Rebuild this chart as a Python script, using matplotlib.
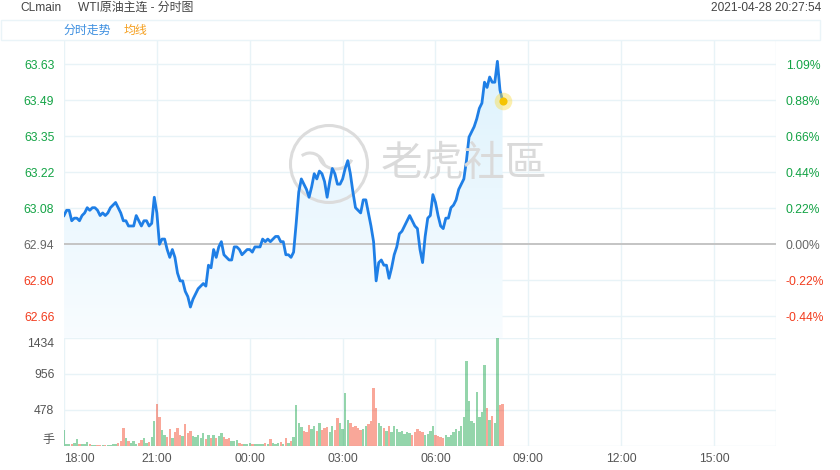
import numpy as np
import matplotlib
matplotlib.use("Agg")
import matplotlib.pyplot as plt
from matplotlib.patches import Polygon, Circle, Arc, Rectangle
from matplotlib.colors import LinearSegmentedColormap

plt.rcParams['font.family'] = ['Liberation Sans', 'Noto Sans CJK SC', 'DejaVu Sans']

# previous close and the percent step between grid lines
base = 62.94
step_pct = 0.2188

# 5-minute samples from 18:00
price = [63.05, 63.07, 63.07, 63.03, 63.04, 63.04, 63.03, 63.05, 63.06, 63.08,
         63.07, 63.08, 63.08, 63.07, 63.05, 63.06, 63.05, 63.06, 63.08, 63.09,
         63.10, 63.08, 63.06, 63.03, 63.03, 63.01, 63.01, 63.01, 63.05, 63.03,
         63.01, 63.03, 63.03, 63.01, 63.02, 63.12, 63.06, 62.94, 62.96, 62.96,
         62.92, 62.89, 62.92, 62.89, 62.83, 62.80, 62.80, 62.76, 62.74, 62.70,
         62.73, 62.75, 62.77, 62.78, 62.79, 62.78, 62.86, 62.85, 62.92, 62.89,
         62.93, 62.95, 62.90, 62.89, 62.88, 62.88, 62.93, 62.93, 62.92, 62.90,
         62.91, 62.92, 62.92, 62.91, 62.93, 62.93, 62.93, 62.96, 62.95, 62.96,
         62.95, 62.96, 62.97, 62.97, 62.95, 62.95, 62.90, 62.90, 62.89, 62.91,
         63.02, 63.14, 63.19, 63.17, 63.15, 63.12, 63.16, 63.21, 63.19, 63.22,
         63.21, 63.18, 63.12, 63.18, 63.23, 63.21, 63.17, 63.17, 63.19, 63.23,
         63.26, 63.21, 63.14, 63.08, 63.07, 63.06, 63.11, 63.11, 63.06, 63.01,
         62.95, 62.80, 62.87, 62.88, 62.86, 62.86, 62.81, 62.85, 62.90, 62.93,
         62.98, 62.99, 63.01, 63.03, 63.05, 63.03, 63.01, 63.00, 62.92, 62.87,
         62.97, 63.04, 63.05, 63.13, 63.10, 63.05, 63.01, 63.00, 63.04, 63.04,
         63.08, 63.09, 63.11, 63.15, 63.17, 63.19, 63.26, 63.35, 63.37, 63.39,
         63.42, 63.46, 63.48, 63.56, 63.54, 63.58, 63.56, 63.56, 63.64, 63.53,
         63.49]

volume = [210, 30, 25, 20, 35, 90, 25, 20, 30, 55,
          20, 15, 10, 12, 8, 10, 15, 10, 12, 20,
          30, 40, 60, 235, 110, 70, 40, 60, 30, 45,
          80, 100, 40, 50, 120, 330, 560, 380, 210, 150,
          120, 230, 110, 180, 240, 150, 130, 290, 170, 200,
          130, 120, 150, 110, 170, 90, 140, 110, 150, 100,
          130, 170, 120, 90, 110, 70, 60, 80, 40, 25,
          30, 20, 35, 25, 30, 20, 30, 25, 40, 30,
          90, 35, 30, 40, 50, 25, 100, 40, 60, 120,
          545, 300, 250, 200, 180, 280, 220, 260, 200, 300,
          210, 240, 250, 180, 260, 210, 370, 300, 220, 700,
          350, 300, 250, 260, 240, 210, 230, 260, 290, 330,
          775, 500, 300, 260, 240, 200, 260, 190, 270, 220,
          180, 200, 160, 190, 170, 150, 180, 230, 200, 180,
          150, 160, 200, 270, 150, 130, 120, 100, 140, 120,
          140, 180, 230, 200, 260, 380, 1130, 600, 330, 300,
          715, 380, 450, 1076, 500, 350, 400, 300, 1434, 540,
          560]

minutes = np.arange(len(price)) * 5

tick_steps = [-2, -1, 0, 1, 2, 3, 4, 5]
price_labels = ["62.66", "62.80", "62.94", "63.08", "63.22", "63.35", "63.49", "63.63"]
pct_labels = ["-0.44%", "-0.22%", "0.00%", "0.22%", "0.44%", "0.66%", "0.88%", "1.09%"]
vol_ticks = [0, 478, 956, 1434]
vol_labels = ["手", "478", "956", "1434"]
time_ticks = [0, 180, 360, 540, 720, 900, 1080, 1260]
time_labels = ["18:00", "21:00", "00:00", "03:00", "06:00", "09:00", "12:00", "15:00"]

GREEN = '#13a345'
RED = '#f23c1e'
GREY = '#666666'
GRID = '#e8f3f7'
LINE = '#1f7fe6'

fig = plt.figure(figsize=(8.4, 4.7), dpi=100)
ax = fig.add_axes([64/840, 132/470, 712/840, 298/470])
axv = fig.add_axes([64/840, 24/470, 712/840, 108/470])

step = base * step_pct / 100
ymin = base - 2.603 * step
ymax = base + 5.675 * step
xmax = 1380

# gradient fill under the line
verts = [(minutes[0], ymin)] + list(zip(minutes, price)) + [(minutes[-1], ymin)]
poly = Polygon(verts, closed=True, facecolor='none', edgecolor='none')
ax.add_patch(poly)
cmap = LinearSegmentedColormap.from_list('fill', ['#f8fcff', '#dcf2fd'])
grad = np.linspace(1, 0, 256).reshape(-1, 1)
im = ax.imshow(grad, extent=[minutes[0], minutes[-1], ymin, ymax], aspect='auto',
               cmap=cmap, origin='upper', zorder=1)
im.set_clip_path(poly)

# grid
ticks = [base + k * step for k in tick_steps]
for k, t in zip(tick_steps, ticks):
    if k == 0:
        ax.axhline(t, color='#c4c4c4', lw=1.4, zorder=2)
    else:
        ax.axhline(t, color=GRID, lw=1, zorder=0.5)
ax.axhline(ymax, color=GRID, lw=1.5, zorder=0.5)
for m in time_ticks + [xmax]:
    ax.axvline(m, color=GRID, lw=1, zorder=0.5)
    axv.axvline(m, color=GRID, lw=1, zorder=0.5)
for v in vol_ticks:
    axv.axhline(v, color=GRID, lw=1, zorder=0.5)

# watermark
ax.add_patch(Circle((3.29, 3.06), 0.385, transform=fig.dpi_scale_trans,
                    fill=False, edgecolor='#dcdcdc', lw=2.2, zorder=1.5))
ax.add_patch(Arc((3.36, 3.16), 0.34, 0.30, theta1=190, theta2=340,
                 transform=fig.dpi_scale_trans, edgecolor='#dcdcdc', lw=2.2, zorder=1.5))
ax.add_patch(Arc((3.10, 3.00), 0.30, 0.34, theta1=20, theta2=120,
                 transform=fig.dpi_scale_trans, edgecolor='#dcdcdc', lw=2.2, zorder=1.5))
fig.text(464/840, 1 - 164/470, "老虎社區", fontsize=30, color='#dadada',
         ha='center', va='center', family=['Noto Sans CJK TC', 'Noto Sans CJK SC'], zorder=0)

# price line and last point
ax.plot(minutes, price, color=LINE, lw=2.0, zorder=3)
ax.scatter([minutes[-1]], [price[-1]], s=160, color='#f9dc4a', alpha=0.45, lw=0, zorder=4)
ax.scatter([minutes[-1]], [price[-1]], s=34, color='#f5c400', lw=0, zorder=5)

ax.set_xlim(0, xmax)
ax.set_ylim(ymin, ymax)
ax.set_xticks([])
ax.set_yticks(ticks)
ax.set_yticklabels(price_labels, fontsize=8.7)
ax.tick_params(axis='y', length=0, pad=7)

axr = ax.twinx()
axr.set_ylim(ymin, ymax)
axr.set_yticks(ticks)
axr.set_yticklabels(pct_labels, fontsize=8.7)
axr.tick_params(axis='y', length=0, pad=7)

for k, a, b in zip(tick_steps, ax.get_yticklabels(), axr.get_yticklabels()):
    c = GREEN if k > 0 else (RED if k < 0 else GREY)
    a.set_color(c)
    b.set_color(c)

# volume bars
colors = [GREEN if i == 0 or price[i] >= price[i - 1] else RED for i in range(len(price))]
axv.bar(minutes, volume, width=4.6, color=colors, alpha=0.45, lw=0, zorder=2)
axv.set_xlim(0, xmax)
axv.set_ylim(0, 1434)
axv.set_yticks(vol_ticks)
axv.set_yticklabels(vol_labels, fontsize=8.7, color='#555555')
vl = axv.get_yticklabels()
vl[0].set_va('bottom')
vl[-1].set_va('top')
axv.set_xticks(time_ticks)
axv.set_xticklabels(time_labels, fontsize=8.7, color='#555555')
axv.get_xticklabels()[0].set_ha('left')
axv.tick_params(length=0, pad=5)
axv.tick_params(axis='y', pad=7)

for a in (ax, axr, axv):
    for s in a.spines.values():
        s.set_visible(False)

# header
fig.text(20/840, 1 - 8/470, "CLmain", fontsize=8.6, color='#444444', va='center')
fig.text(78/840, 1 - 8/470, "WTI原油主连 - 分时图", fontsize=8.6, color='#444444', va='center')
fig.text(821/840, 1 - 8/470, "2021-04-28 20:27:54", fontsize=8.6, color='#444444',
         va='center', ha='right')
fig.add_artist(Rectangle((0.5/840, 1 - 40/470), 819/840, 20/470, transform=fig.transFigure,
                         fill=False, edgecolor='#eaf4f8', lw=1))
fig.text(64/840, 1 - 31/470, "分时走势", fontsize=8.6, color='#3d8fe0', va='center')
fig.text(124/840, 1 - 31/470, "均线", fontsize=8.6, color='#f5a020', va='center')

fig.savefig("out.png", dpi=100)
